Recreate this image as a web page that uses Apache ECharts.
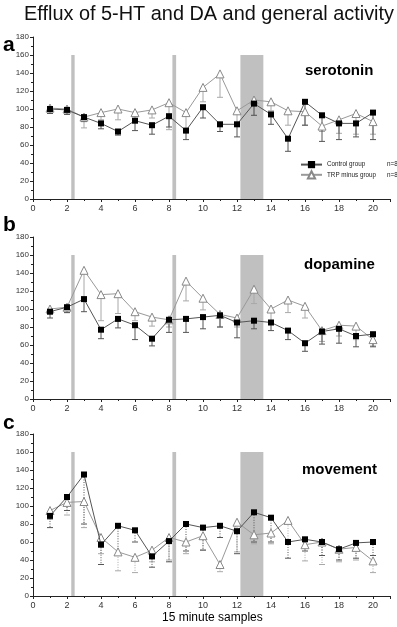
<!DOCTYPE html>
<html><head><meta charset="utf-8">
<script src="https://cdn.jsdelivr.net/npm/echarts@6/dist/echarts.min.js"></script>
<style>html,body{margin:0;padding:0;background:#fff}#c{width:397px;height:627px}</style>
</head><body><div id="c"></div>
<script>
const samples = [1,2,3,4,5,6,7,8,9,10,11,12,13,14,15,16,17,18,19,20];
const xTicks = [0,2,4,6,8,10,12,14,16,18,20];
const yTicks = [0,20,40,60,80,100,120,140,160,180];
const bands = [[2.25,2.45],[8.2,8.42],[12.2,13.55]];
const bandTop = 160;

const seroControl = [100,99,91,84,75,87,82,92,76,102,83,83,106,94,67,108,93,84,84,96];
const seroControlErr = [5,5,5,6,4,11,10,12,10,12,8,14,13,11,14,26,29,18,15,30];
const seroTRP = [101,100,91,96,100,96,99,107,96,124,139,98,110,108,98,97,81,88,95,86];
const seroTRPErr = [4,6,12,8,12,8,9,30,20,16,26,14,17,10,16,15,6,15,23,14];

const dopaControl = [97,102,111,77,89,82,67,88,89,91,93,85,87,85,76,62,75,78,70,72];
const dopaControlErr = [7,6,14,10,10,16,8,14,15,13,13,17,9,9,10,9,14,16,12,14];
const dopaTRP = [100,102,143,116,117,97,91,88,131,112,94,90,122,100,110,103,76,82,81,66];
const dopaTRPErr = [5,6,34,29,22,10,10,8,22,13,14,10,16,13,14,13,12,12,15,7];

const moveControl = [89,110,135,57,78,73,44,61,80,76,78,72,93,87,60,63,60,52,59,60];
const moveControlErr = [13,15,55,22,33,13,12,23,30,25,13,25,33,27,18,13,15,12,17,15];
const moveTRP = [95,104,105,65,49,43,51,65,60,67,35,82,68,70,84,57,60,52,54,39];
const moveTRPErr = [10,14,29,18,21,17,13,25,13,16,8,33,10,12,24,18,25,14,14,13];

const panelNames = ['serotonin','dopamine','movement'];
const panelLetters = ['a','b','c'];
const legendNames = ['Control group','TRP minus group'];
const nLabel = 'n=8';

const panels = [
  {c: seroControl, ce: seroControlErr, t: seroTRP, te: seroTRPErr, dash:'solid'},
  {c: dopaControl, ce: dopaControlErr, t: dopaTRP, te: dopaTRPErr, dash:'solid'},
  {c: moveControl, ce: moveControlErr, t: moveTRP, te: moveTRPErr, dash:[1,1.5]}
];
const gridTops = [37, 237, 434];
const gridH = 162;

const chart = echarts.init(document.getElementById('c'), null, {renderer:'canvas'});
const grids = [], xAxes = [], yAxes = [], series = [];
const FONT = 'Liberation Sans, Arial, sans-serif';

function errSeries(i, vals, errs, color, z, dash) {
  return {
    type:'custom', xAxisIndex:i, yAxisIndex:i, z: z, silent:true,
    data: samples.map((s,k)=>[s, vals[k], errs[k]]),
    renderItem: function(params, api){
      const x = api.value(0), v = api.value(1), e = api.value(2);
      const p1 = api.coord([x, v]);
      const p2 = api.coord([x, v - e]);
      const st = {stroke: color, lineWidth: 1, lineDash: dash === 'solid' ? null : dash};
      return {type:'group', children:[
        {type:'line', shape:{x1:p1[0], y1:p1[1], x2:p2[0], y2:p2[1]}, style:st},
        {type:'line', shape:{x1:p2[0]-3, y1:p2[1], x2:p2[0]+3, y2:p2[1]}, style:{stroke:color, lineWidth:1}}
      ]};
    }
  };
}

panels.forEach((p, i) => {
  grids.push({left:33, right:7, top:gridTops[i], height:gridH, show:false});
  xAxes.push({
    type:'value', gridIndex:i, min:0, max:21, interval:2,
    axisLine:{show:true, lineStyle:{color:'#222', width:1}},
    axisTick:{show:true, length:3, inside:false, lineStyle:{color:'#222'}},
    minorTick:{show:true, splitNumber:2, length:2, lineStyle:{color:'#222'}},
    splitLine:{show:false},
    axisLabel:{fontSize:9, color:'#333', fontFamily:FONT, margin:5, showMaxLabel:false,
      formatter: v => xTicks.indexOf(v) >= 0 ? String(v) : ''}
  });
  yAxes.push({
    type:'value', gridIndex:i, min:0, max:180, interval:20,
    axisLine:{show:true, lineStyle:{color:'#222', width:1}},
    axisTick:{show:true, length:3, lineStyle:{color:'#222'}},
    minorTick:{show:true, splitNumber:2, length:2, lineStyle:{color:'#222'}},
    splitLine:{show:false},
    axisLabel:{fontSize:8, color:'#333', fontFamily:FONT, margin:4,
      formatter: v => yTicks.indexOf(v) >= 0 ? String(v) : ''}
  });
  series.push({
    type:'line', xAxisIndex:i, yAxisIndex:i, data:[], silent:true, z:1,
    markArea:{silent:true, itemStyle:{color:'#c0c0c0'},
      data: bands.map(b => [{coord:[b[0],0]},{coord:[b[1],bandTop]}])}
  });
  series.push(errSeries(i, p.t, p.te, '#a8a8a8', 2, p.dash));
  series.push(errSeries(i, p.c, p.ce, '#555', 3, p.dash));
  series.push({
    name: legendNames[1], type:'line', xAxisIndex:i, yAxisIndex:i, z:4,
    data: samples.map((s,k)=>[s, p.t[k]]),
    symbol:'triangle', symbolSize:8, showAllSymbol:true,
    lineStyle:{color:'#999', width:1},
    itemStyle:{color:'#fff', borderColor:'#888', borderWidth:1}
  });
  series.push({
    name: legendNames[0], type:'line', xAxisIndex:i, yAxisIndex:i, z:5,
    data: samples.map((s,k)=>[s, p.c[k]]),
    symbol:'rect', symbolSize:6, showAllSymbol:true,
    lineStyle:{color:'#555', width:1},
    itemStyle:{color:'#000', borderColor:'#000', borderWidth:0}
  });
});

const graphics = [];
panelLetters.forEach((l, i) => {
  graphics.push({type:'text', left:3, top:[35,215,413][i],
    style:{text:l, font:'bold 21px '+FONT, fill:'#000'}});
  graphics.push({type:'text', left:[305,304,302][i], top:[63,257,462][i],
    style:{text:panelNames[i], font:'bold 15px '+FONT, fill:'#000'}});
});

chart.setOption({
  animation:false,
  backgroundColor:'#fff',
  title:{text:'Efflux of 5-HT and DA and general activity', left:204, textAlign:'center', top:0,
    textStyle:{fontSize:19.9, fontWeight:'normal', color:'#111', fontFamily:FONT}},
  legend:{
    data:[legendNames[0], legendNames[1]],
    orient:'vertical', left:300, top:161, padding:0, itemGap:2, itemWidth:21, itemHeight:9,
    formatter: n => '{a|' + n + '}{b|' + nLabel + '}',
    textStyle:{fontSize:6.3, color:'#222', fontFamily:FONT,
      rich:{a:{width:60, fontSize:6.3, color:'#222', fontFamily:FONT}, b:{fontSize:6.3, color:'#222', fontFamily:FONT}}}
  },
  grid:grids, xAxis:xAxes, yAxis:yAxes, series:series,
  graphic:graphics.concat([
    {type:'text', left:162, top:612, style:{text:'15 minute samples', font:'12px '+FONT, fill:'#000'}}
  ])
});
</script></body></html>
